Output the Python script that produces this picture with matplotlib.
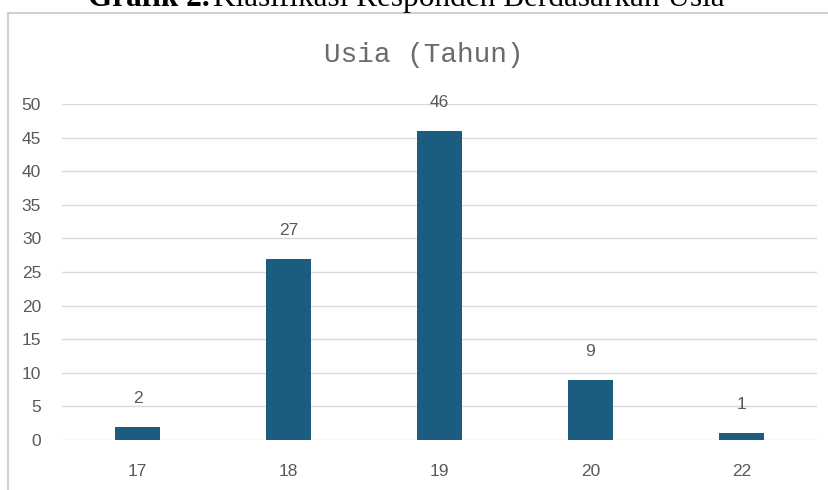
import matplotlib
matplotlib.use("Agg")
from matplotlib import pyplot as plt
from matplotlib.patches import Rectangle

usia = ['17', '18', '19', '20', '22']
jumlah = [2, 27, 46, 9, 1]
y_ticks = [0, 5, 10, 15, 20, 25, 30, 35, 40, 45, 50]

bar_color = '#1a5d7e'
text_gray = '#595959'

fig = plt.figure(figsize=(8.29, 4.9), dpi=100)
fig.patch.set_facecolor('white')

# outer chart frame (cut off at right and bottom)
fig.patches.append(Rectangle((8 / 829, -0.05), 1.0, (490 - 13) / 490 + 0.05,
                             transform=fig.transFigure, fill=False,
                             edgecolor='#d0d0d0', linewidth=1.5))

# caption above the frame, top part is cropped like in the scan
fig.text(88 / 829, 1 - 6 / 490, 'Grafik 2.', family='Liberation Serif',
         fontweight='bold', fontsize=22.5, ha='left', va='baseline')
fig.text(213 / 829, 1 - 6 / 490, 'Klasifikasi Responden Berdasarkan Usia',
         family='Liberation Serif', fontsize=22.5, ha='left', va='baseline')

ax = fig.add_axes([62 / 829, 1 - 440 / 490, (817 - 62) / 829, (440 - 104) / 490])
x = range(len(usia))
ax.bar(x, jumlah, width=0.3, color=bar_color, zorder=3)
ax.set_xlim(-0.5, len(usia) - 0.5)
ax.set_ylim(0, 50)
ax.set_yticks(y_ticks)
ax.set_xticks(list(x))
ax.set_xticklabels(usia)
ax.grid(axis='y', color='#d9d9d9', linewidth=1, zorder=0)
ax.tick_params(length=0, labelsize=12.5, labelcolor=text_gray)
ax.tick_params(axis='x', pad=17)
ax.tick_params(axis='y', pad=15)
for s in ax.spines.values():
    s.set_visible(False)
for lbl in ax.get_xticklabels() + ax.get_yticklabels():
    lbl.set_family('Liberation Sans')

for xi, v in zip(x, jumlah):
    ax.annotate(str(v), (xi, v), xytext=(0, 15), textcoords='offset points',
                ha='center', va='bottom', fontsize=12.5, color=text_gray,
                family='Liberation Sans')

fig.text(424 / 829, 1 - 62 / 490, 'Usia (Tahun)', family='Liberation Mono',
         fontsize=20, color='#6b6b6b', ha='center', va='baseline')

fig.savefig('out.png', dpi=100)
